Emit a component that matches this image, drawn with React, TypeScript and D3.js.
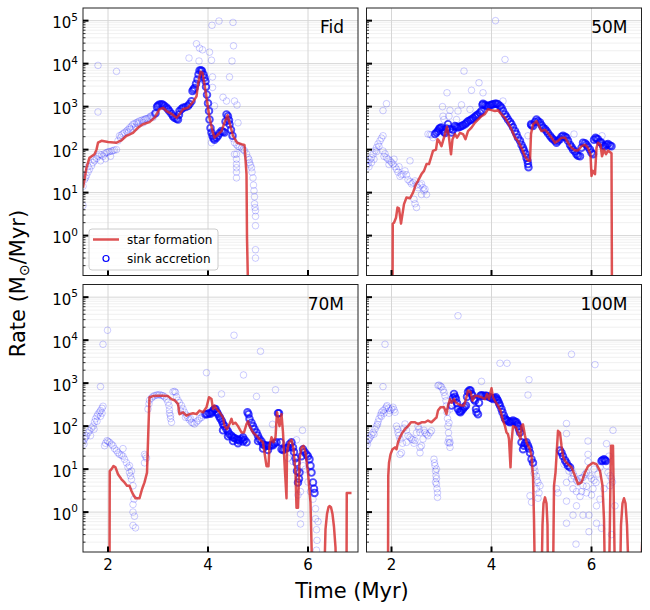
import React, { useEffect, useRef } from 'react';
import * as d3 from 'd3';

type Pt = [number, number];

const runNames = ['Fid', '50M', '70M', '100M'];
const xTicks = [2, 4, 6];
const yMajorTicks = [1, 10, 100, 1000, 10000, 100000];
const xDomain: [number, number] = [1.5, 7];
const yDomain: [number, number] = [0.118, 1.97e5];

// star formation rate (Msun/Myr) vs time (Myr)
const fidStar: Pt[] = [
  [1.5, 13], [1.57, 38], [1.63, 65], [1.73, 78], [1.77, 100], [1.8, 145], [1.87, 160], [2.0, 150],
  [2.17, 145], [2.27, 165], [2.37, 210], [2.5, 245], [2.6, 325], [2.7, 390], [2.83, 435], [2.93, 550],
  [3.03, 870], [3.1, 940], [3.17, 790], [3.27, 680], [3.37, 550], [3.43, 660], [3.5, 870], [3.6, 940],
  [3.7, 1290], [3.77, 1740], [3.8, 3300], [3.85, 6500], [3.89, 6100], [3.93, 3300], [3.98, 1350],
  [4.03, 550], [4.09, 270], [4.13, 190], [4.2, 225], [4.27, 270], [4.33, 425], [4.39, 630], [4.43, 425],
  [4.5, 210], [4.58, 145], [4.67, 133], [4.73, 128], [4.77, 27], [4.78, 0.9], [4.81, 0.02],
];

const m50Star: Pt[] = [
  [2.02, 0.02], [2.025, 1.9], [2.05, 2.0], [2.09, 2.6], [2.12, 4.5], [2.15, 4.3], [2.19, 1.9], [2.22, 3.2],
  [2.25, 5.4], [2.3, 7.7], [2.37, 7.4], [2.43, 10], [2.49, 15.8], [2.53, 18.7], [2.6, 27], [2.65, 32],
  [2.7, 46], [2.75, 46], [2.79, 65], [2.83, 93], [2.89, 100], [2.92, 175], [2.95, 160], [3.0, 120],
  [3.07, 230], [3.11, 340], [3.15, 190], [3.19, 78], [3.22, 175], [3.27, 230], [3.31, 190], [3.37, 245],
  [3.43, 230], [3.48, 175], [3.53, 270], [3.6, 325], [3.67, 425], [3.73, 500], [3.8, 600], [3.87, 680],
  [3.93, 870], [4.0, 830], [4.07, 790], [4.13, 830], [4.2, 660], [4.27, 550], [4.33, 425], [4.4, 295],
  [4.47, 190], [4.53, 160], [4.6, 110], [4.67, 70], [4.73, 56], [4.77, 55], [4.79, 230], [4.83, 390],
  [4.9, 460], [4.95, 355], [5.0, 270], [5.07, 290], [5.13, 245], [5.2, 190], [5.27, 145], [5.33, 160],
  [5.4, 190], [5.47, 190], [5.53, 145], [5.6, 110], [5.67, 95], [5.73, 95], [5.8, 120], [5.87, 130],
  [5.93, 110], [5.98, 78], [6.0, 24.5], [6.03, 32], [6.07, 27], [6.1, 110], [6.13, 145], [6.18, 130],
  [6.21, 70], [6.25, 100], [6.29, 78], [6.33, 95], [6.4, 82], [6.41, 0.02],
];

const m70Star: Pt[] = [
  [2.03, 0.02], [2.035, 9], [2.07, 10], [2.11, 11.8], [2.15, 11], [2.2, 7.6], [2.27, 5.8], [2.33, 4.9],
  [2.38, 4.1], [2.43, 4.1], [2.47, 3.1], [2.5, 2.6], [2.55, 2.1], [2.63, 2.1], [2.68, 3.4], [2.73, 4.9],
  [2.78, 8.3], [2.81, 100], [2.83, 470], [2.9, 500], [3.0, 510], [3.1, 510], [3.2, 500], [3.27, 425],
  [3.33, 400], [3.4, 330], [3.43, 190], [3.5, 210], [3.57, 175], [3.63, 190], [3.7, 200], [3.77, 190],
  [3.83, 230], [3.9, 210], [3.97, 275], [4.02, 470], [4.07, 425], [4.1, 250], [4.13, 300], [4.17, 250],
  [4.23, 210], [4.3, 160], [4.33, 100], [4.38, 85], [4.43, 112], [4.47, 148], [4.5, 112], [4.55, 120],
  [4.6, 100], [4.67, 71], [4.72, 71], [4.77, 112], [4.8, 130], [4.83, 100], [4.9, 71], [4.97, 60],
  [5.03, 50], [5.1, 42], [5.13, 24], [5.17, 11.7], [5.21, 11.7], [5.23, 35], [5.27, 55], [5.31, 42],
  [5.35, 55], [5.38, 210], [5.43, 100], [5.47, 190], [5.5, 71], [5.53, 14], [5.57, 2.1], [5.58, 24],
  [5.62, 42], [5.67, 48], [5.71, 30], [5.75, 8.3], [5.77, 1.26], [5.8, 1.26], [5.83, 17], [5.87, 32],
  [5.91, 35], [5.95, 24], [6.0, 8.3], [6.05, 1.66], [6.09, 0.02],
  [6.33, 0.05], [6.35, 0.4], [6.38, 0.9], [6.41, 1.3], [6.43, 1.38], [6.46, 1.3], [6.49, 0.9],
  [6.52, 0.45], [6.55, 0.15], [6.57, 0.02],
  [6.77, 0.02], [6.775, 2.8], [6.87, 2.8],
];

const m100Star: Pt[] = [
  [1.93, 0.02], [1.935, 6.9], [1.95, 14], [1.98, 22], [2.02, 29], [2.07, 32], [2.1, 29], [2.13, 42],
  [2.17, 55], [2.22, 71], [2.27, 85], [2.33, 100], [2.39, 123], [2.47, 123], [2.53, 112], [2.6, 123],
  [2.67, 123], [2.73, 135], [2.8, 123], [2.87, 148], [2.9, 158], [2.93, 230], [2.98, 275], [3.05, 275],
  [3.1, 190], [3.13, 300], [3.17, 425], [3.2, 350], [3.25, 425], [3.29, 350], [3.33, 330], [3.4, 300],
  [3.45, 300], [3.5, 470], [3.53, 670], [3.58, 630], [3.62, 390], [3.67, 510], [3.73, 500], [3.8, 470],
  [3.87, 425], [3.91, 560], [3.95, 425], [4.0, 760], [4.03, 470], [4.09, 350], [4.13, 300], [4.18, 230],
  [4.22, 148], [4.27, 100], [4.3, 71], [4.33, 65], [4.35, 50], [4.38, 11], [4.4, 42], [4.43, 100],
  [4.49, 92], [4.53, 71], [4.58, 50], [4.6, 100], [4.63, 110], [4.67, 60], [4.7, 42], [4.73, 35],
  [4.77, 29], [4.8, 20], [4.83, 6.9], [4.85, 0.67], [4.87, 0.02],
  [5.0, 0.02], [5.02, 0.5], [5.04, 1.6], [5.07, 2.2], [5.1, 1.6], [5.12, 0.5], [5.13, 0.02],
  [5.23, 0.02], [5.25, 4.1], [5.28, 8.3], [5.33, 78], [5.37, 70], [5.4, 35], [5.43, 20], [5.47, 15.5],
  [5.53, 13], [5.6, 11], [5.67, 6.9], [5.73, 4.5], [5.8, 4.9], [5.87, 8.3], [5.93, 11.7], [6.03, 14],
  [6.1, 13], [6.17, 9.1], [6.22, 4.1], [6.25, 0.67], [6.27, 0.02],
  [6.35, 0.02], [6.39, 35], [6.43, 35], [6.47, 0.02],
  [6.57, 0.02], [6.59, 0.5], [6.62, 1.6], [6.65, 2.1], [6.68, 1.6], [6.71, 0.5], [6.75, 0.02],
  [6.98, 0.02], [7.02, 0.3],
];

// sink accretion rate: the thick, heavily overlapping parts of the track
const fidSinkDense: Pt[] = [
  [2.95, 700], [2.98, 1000], [3.0, 1060], [3.03, 1120], [3.07, 1140], [3.1, 1100], [3.13, 1040],
  [3.17, 950], [3.2, 870], [3.23, 780], [3.27, 680], [3.3, 600], [3.33, 550], [3.37, 520], [3.4, 500],
  [3.42, 650], [3.43, 790], [3.47, 880], [3.5, 940], [3.55, 980], [3.6, 1040], [3.63, 1150],
  [3.67, 1330], [3.69, 2300], [3.71, 2500], [3.73, 2700], [3.76, 3400], [3.79, 4300], [3.81, 5600],
  [3.83, 6900], [3.86, 7000], [3.88, 6700], [3.91, 5600], [3.93, 4700], [3.95, 3900], [3.96, 2900],
  [3.98, 1900], [4.0, 1200], [4.02, 790], [4.03, 500], [4.05, 320], [4.07, 250], [4.09, 210],
  [4.11, 185], [4.13, 170], [4.17, 190], [4.2, 210], [4.23, 240], [4.27, 270], [4.3, 260], [4.33, 250],
  [4.35, 450], [4.37, 660], [4.4, 600], [4.42, 480], [4.43, 390], [4.46, 290], [4.49, 210],
];

// sink accretion rate: faint parts of the track and single outliers
const fidSinkSparse: Pt[] = [
  [1.5, 14], [1.53, 20], [1.55, 22], [1.57, 25], [1.6, 30], [1.63, 35], [1.67, 42], [1.7, 50], [1.73, 55],
  [1.77, 62], [1.8, 70], [1.83, 78], [1.87, 75], [1.9, 70], [1.93, 80], [1.97, 85], [2.0, 88], [2.03, 90],
  [2.07, 92], [2.1, 95], [2.13, 98], [2.17, 100], [2.2, 160], [2.23, 210], [2.27, 220], [2.3, 235],
  [2.33, 250], [2.37, 270], [2.4, 290], [2.43, 320], [2.47, 350], [2.5, 390], [2.53, 400], [2.57, 425],
  [2.6, 440], [2.63, 465], [2.67, 480], [2.7, 490], [2.73, 500], [2.77, 520], [2.8, 540], [2.83, 550],
  [2.87, 600], [2.9, 630], [2.93, 660],
  [1.6, 40], [1.72, 60], [1.85, 55], [1.95, 62], [2.05, 70], [2.25, 190], [2.4, 250], [2.45, 300],
  [2.55, 330], [2.6, 400], [2.7, 420], [2.75, 520], [2.85, 600], [2.9, 560],
  [4.53, 145], [4.57, 130], [4.6, 120], [4.63, 115], [4.67, 110], [4.7, 100], [4.73, 95], [4.77, 80],
  [4.8, 65], [4.82, 58], [4.83, 50], [4.85, 44], [4.87, 38], [4.88, 30], [4.9, 22], [4.91, 15],
  [4.92, 11], [4.93, 8], [4.93, 5.5], [4.94, 4.5], [4.95, 3.8], [4.95, 2.8],
  [4.57, 78], [4.57, 60], [4.57, 46], [4.57, 38], [4.57, 30], [4.57, 22], [4.5, 180], [4.53, 78],
  [1.8, 9100], [2.17, 6600], [1.8, 750], [1.5, 5], [3.62, 13500], [3.77, 29000], [3.83, 23000],
  [3.89, 21000], [3.82, 11500], [4.03, 18500], [4.07, 12000], [4.08, 78000], [4.22, 98000],
  [4.5, 91000], [4.51, 26000], [4.48, 11500], [4.43, 4900], [4.09, 4900], [4.09, 2800], [4.3, 1650],
  [4.37, 1350], [4.13, 1040], [4.53, 1350], [4.58, 1090], [4.6, 420], [4.07, 145], [4.95, 1.7],
  [4.95, 0.47], [4.95, 0.3],
];

const m50SinkDense: Pt[] = [
  [2.87, 230], [2.9, 250], [2.93, 270], [2.95, 300], [2.97, 320], [3.0, 325], [3.03, 290], [3.05, 260],
  [3.07, 245], [3.1, 310], [3.13, 390], [3.17, 300], [3.2, 250], [3.23, 290], [3.27, 355], [3.3, 340],
  [3.33, 325], [3.37, 340], [3.4, 355], [3.43, 370], [3.47, 390], [3.5, 420], [3.53, 460], [3.57, 480],
  [3.6, 500], [3.63, 540], [3.67, 580], [3.7, 620], [3.73, 660], [3.77, 720], [3.8, 790], [3.82, 1100],
  [3.83, 1170], [3.87, 1100], [3.9, 1040], [3.93, 1040], [3.97, 1080], [4.0, 1100], [4.03, 1140],
  [4.07, 1170], [4.1, 1170], [4.13, 1140], [4.17, 1040], [4.2, 940], [4.23, 800], [4.27, 660],
  [4.3, 580], [4.33, 500], [4.37, 440], [4.4, 390], [4.43, 330], [4.47, 270], [4.5, 230], [4.53, 190],
  [4.57, 160], [4.6, 130], [4.63, 110], [4.65, 95], [4.68, 80], [4.7, 65], [4.72, 55], [4.73, 46],
  [4.74, 39], [4.79, 390], [4.8, 370], [4.83, 355], [4.87, 440], [4.9, 500], [4.93, 460], [4.97, 425],
  [5.0, 370], [5.03, 325], [5.07, 300], [5.1, 270], [5.13, 240], [5.17, 210], [5.2, 190], [5.23, 175],
  [5.27, 160], [5.3, 145], [5.33, 160], [5.37, 175], [5.4, 200], [5.43, 210], [5.47, 200], [5.5, 190],
  [5.53, 160], [5.57, 130], [5.6, 115], [5.63, 100], [5.67, 90], [5.7, 78], [5.73, 72], [5.77, 70],
  [5.8, 110], [5.83, 145], [5.87, 140], [5.9, 130], [5.93, 115], [5.97, 100], [6.0, 85], [6.03, 78],
  [6.05, 170], [6.08, 190], [6.1, 180], [6.13, 175], [6.17, 150], [6.2, 145], [6.23, 125], [6.27, 120],
  [6.3, 130], [6.33, 135], [6.37, 125], [6.4, 120],
];

const m50SinkSparse: Pt[] = [
  [1.5, 42], [1.53, 48], [1.57, 59], [1.6, 65], [1.63, 78], [1.67, 95], [1.7, 112], [1.73, 135],
  [1.77, 160], [1.8, 185], [1.83, 210], [1.5, 55], [1.55, 40], [1.6, 50], [1.65, 60], [1.7, 90],
  [1.75, 120],
  [1.83, 93], [1.87, 80], [1.9, 65], [1.93, 60], [1.97, 55], [2.0, 50], [2.03, 46], [2.07, 40],
  [2.1, 35], [2.13, 30], [2.17, 24], [2.2, 26], [2.23, 27], [2.27, 32], [2.3, 26], [2.33, 20],
  [2.37, 18], [2.4, 16], [2.43, 17], [2.47, 18.7], [2.5, 15], [2.53, 13], [2.57, 15], [2.6, 16],
  [2.63, 13], [2.67, 12], [2.7, 9], [1.85, 70], [1.95, 45], [2.05, 60], [2.15, 40], [2.45, 7],
  [2.47, 5.5], [2.5, 4.5], [2.6, 9], [2.65, 11],
  [2.73, 230], [2.77, 225], [2.8, 220], [2.83, 190],
  [4.08, 100000], [4.27, 12500], [3.45, 6700], [3.75, 3600], [3.6, 2400], [3.11, 2100], [3.83, 2100],
  [3.02, 1000], [3.17, 820], [3.33, 790], [3.03, 600], [3.57, 860], [4.23, 1350], [4.73, 210],
  [5.65, 230], [6.21, 210], [1.83, 810], [1.9, 1170], [2.37, 55], [3.15, 600], [3.3, 500], [3.05, 500],
  [3.4, 1100],
];

const m70SinkDense: Pt[] = [
  [3.95, 190], [3.98, 190], [4.02, 200], [4.05, 195], [4.08, 210], [4.1, 230], [4.13, 250], [4.15, 250],
  [4.18, 210], [4.2, 190], [4.23, 165], [4.25, 148], [4.28, 130], [4.3, 112], [4.33, 100], [4.37, 85],
  [4.4, 75], [4.43, 65], [4.47, 60], [4.5, 55], [4.53, 52], [4.57, 50], [4.6, 48], [4.63, 46],
  [4.67, 50], [4.7, 55], [4.73, 48], [4.77, 42], [4.79, 210], [4.81, 190], [4.83, 148], [4.87, 120],
  [4.9, 100], [4.93, 85], [4.97, 71], [5.0, 60], [5.03, 50], [5.07, 44], [5.1, 38], [5.13, 36],
  [5.17, 35], [5.2, 35], [5.23, 35], [5.27, 36], [5.3, 36], [5.33, 40], [5.37, 42], [5.4, 200],
  [5.42, 200], [5.45, 42], [5.47, 29], [5.5, 28], [5.53, 29], [5.57, 31], [5.6, 32], [5.63, 38],
  [5.67, 42], [5.7, 32], [5.72, 25], [5.75, 18], [5.77, 14], [5.78, 9], [5.8, 4.9], [5.82, 6],
  [5.83, 8.3], [5.87, 20], [5.9, 29], [5.93, 25], [5.97, 22], [6.0, 20], [6.03, 17], [6.05, 12],
  [6.07, 8.3], [6.1, 4.9], [6.12, 3.5], [6.13, 2.8],
  [4.3, 80], [4.4, 58], [4.5, 45], [4.6, 40], [4.7, 44], [5.0, 45], [5.1, 30], [5.2, 28],
];

const m70SinkSparse: Pt[] = [
  [1.5, 42], [1.53, 50], [1.57, 60], [1.6, 70], [1.63, 78], [1.67, 90], [1.7, 100], [1.73, 125],
  [1.75, 148], [1.78, 170], [1.8, 190], [1.83, 210], [1.85, 230], [1.88, 260], [1.9, 290], [1.52, 38],
  [1.55, 55], [1.65, 60], [1.72, 85], [1.78, 130], [1.85, 170], [1.88, 200],
  [1.93, 35], [1.95, 40], [1.98, 46], [2.0, 44], [2.03, 42], [2.07, 38], [2.1, 35], [2.13, 30],
  [2.17, 27], [2.2, 24], [2.23, 22], [2.27, 21], [2.3, 20], [2.33, 17], [2.37, 14], [2.4, 11],
  [2.43, 8.3], [2.45, 7], [2.47, 5.8], [2.5, 4.1], [2.52, 2.0], [2.5, 1.5], [2.5, 1.0], [2.53, 0.8],
  [2.5, 0.49], [2.55, 0.43], [2.3, 30], [2.43, 12], [2.47, 9], [2.73, 22], [2.75, 20], [2.77, 18],
  [2.73, 14],
  [2.8, 250], [2.82, 330], [2.83, 400], [2.87, 450], [2.9, 490], [2.93, 510], [2.97, 530], [3.0, 530],
  [3.03, 540], [3.07, 520], [3.1, 510], [3.13, 480], [3.17, 425], [3.2, 360], [3.22, 300], [3.23, 240],
  [3.25, 175], [3.27, 123], [3.23, 200], [3.25, 150], [3.3, 630], [3.33, 640], [3.35, 610], [3.37, 480],
  [3.4, 400], [3.43, 350], [3.47, 300], [3.5, 250], [3.53, 210], [3.57, 180], [3.6, 158], [3.63, 140],
  [3.67, 123], [3.7, 118], [3.73, 112], [3.77, 125], [3.8, 135], [3.83, 150], [3.87, 158], [3.9, 175],
  [3.45, 230], [3.55, 160], [3.65, 150],
  [1.99, 17000], [1.9, 8000], [1.85, 830], [4.52, 13000], [5.05, 5500], [3.97, 1750], [4.71, 1550],
  [5.35, 700], [4.97, 490], [4.27, 560], [5.89, 80], [5.29, 110], [5.77, 48], [5.85, 0.9], [5.85, 0.53],
  [6.17, 0.39], [6.18, 0.22], [6.17, 0.13], [6.15, 0.7], [6.15, 1.2], [6.05, 3], [6.1, 2], [6.2, 0.6],
  [5.9, 12], [5.85, 3], [5.8, 2.5], [5.6, 18], [5.7, 15], [5.95, 10], [6.0, 5],
];

const m100SinkDense: Pt[] = [
  [3.2, 300], [3.23, 450], [3.25, 560], [3.27, 480], [3.29, 425], [3.31, 340], [3.33, 250], [3.36, 220],
  [3.38, 210], [3.4, 230], [3.43, 250], [3.46, 280], [3.49, 300], [3.51, 480], [3.53, 630], [3.56, 680],
  [3.58, 670], [3.6, 560], [3.62, 510], [3.65, 420], [3.67, 390], [3.69, 250], [3.7, 210], [3.73, 190],
  [3.75, 350], [3.78, 510], [3.8, 520], [3.83, 510], [3.87, 510], [3.9, 510], [3.93, 490], [3.97, 470],
  [4.0, 450], [4.03, 425], [4.06, 450], [4.09, 470], [4.11, 420], [4.13, 390], [4.15, 340], [4.17, 300],
  [4.2, 250], [4.22, 210], [4.25, 175], [4.27, 148], [4.29, 140], [4.31, 135], [4.34, 128], [4.37, 123],
  [4.4, 128], [4.43, 135], [4.47, 128], [4.5, 123], [4.52, 110], [4.53, 100], [4.55, 85], [4.57, 71],
  [4.6, 42], [4.63, 29], [4.65, 35], [4.67, 40], [4.7, 42], [4.73, 35], [4.75, 30], [4.77, 24],
  [4.8, 17], [4.83, 14],
  [5.37, 27], [5.4, 24], [5.43, 20], [5.47, 16], [5.5, 14], [5.53, 12], [5.57, 11],
  [6.2, 15.5], [6.22, 16], [6.25, 17], [6.27, 16], [6.29, 15.5],
];

const m100SinkSparse: Pt[] = [
  [1.5, 42], [1.53, 48], [1.57, 55], [1.6, 62], [1.63, 71], [1.67, 85], [1.7, 100], [1.73, 125],
  [1.75, 148], [1.78, 180], [1.8, 210], [1.83, 230], [1.87, 250], [1.9, 280], [1.91, 300], [1.94, 260],
  [1.97, 230], [2.0, 250], [2.03, 275], [2.05, 240], [2.07, 210], [1.52, 38], [1.55, 50], [1.65, 65],
  [1.72, 110], [1.8, 170], [1.85, 200], [1.95, 200],
  [2.1, 100], [2.12, 85], [2.13, 71], [2.15, 60], [2.17, 50], [2.2, 24], [2.22, 40], [2.25, 90],
  [2.27, 112], [2.3, 80], [2.33, 60], [2.37, 55], [2.4, 50], [2.43, 48], [2.47, 46], [2.5, 70],
  [2.53, 100], [2.55, 85], [2.57, 71], [2.6, 35], [2.63, 50], [2.67, 71], [2.7, 65], [2.73, 60],
  [2.77, 70], [2.8, 78], [2.17, 22], [2.3, 42], [2.57, 32], [2.57, 24], [2.45, 40], [2.65, 80],
  [2.85, 17], [2.86, 14], [2.87, 12], [2.88, 9], [2.89, 7], [2.9, 6], [2.9, 4.5], [2.91, 3.5],
  [2.92, 2.8], [2.92, 2.2], [2.88, 5], [2.9, 10],
  [2.93, 880], [2.95, 900], [2.98, 850], [3.0, 810], [3.03, 700], [3.05, 610], [3.07, 500], [3.09, 390],
  [3.1, 300], [3.11, 210], [3.12, 150], [3.13, 100], [3.14, 70], [3.15, 50], [3.16, 40], [3.17, 32],
  [3.13, 42], [3.15, 120], [3.17, 250],
  [4.85, 11], [4.87, 9], [4.9, 6.9], [4.91, 5.5], [4.93, 4.9], [4.95, 2.8], [4.8, 1.7], [4.93, 2.1],
  [4.77, 2.4], [4.97, 4.1], [4.85, 8], [4.9, 3.5],
  [5.33, 2.8], [5.3, 3.5], [5.5, 115], [5.5, 67], [5.93, 45], [6.3, 39], [6.43, 80], [5.5, 1.8],
  [5.7, 1.4], [5.63, 0.85], [5.5, 0.55], [5.83, 0.85], [5.95, 0.85], [5.95, 0.35], [6.1, 0.55],
  [6.2, 0.42], [6.4, 0.3], [5.69, 0.18], [5.77, 2.3], [5.9, 2.8], [6.1, 1.4], [6.17, 2.0], [6.03, 3.5],
  [5.63, 3.5], [5.5, 4.9], [5.83, 4.1], [6.25, 3.5], [6.37, 4.1], [6.47, 1.4],
  [5.6, 10], [5.63, 8], [5.65, 6.9], [5.7, 5.5], [5.73, 5], [5.77, 6], [5.8, 6.2], [5.83, 6.4],
  [5.87, 7.5], [5.9, 8.3], [5.93, 22], [5.93, 15], [5.97, 7], [6.0, 6], [6.05, 5.5], [6.09, 4.9],
  [6.13, 7.7], [6.17, 11], [6.33, 8.3], [6.37, 7], [6.4, 6], [6.42, 5], [5.45, 13], [5.55, 9],
  [5.6, 6], [5.7, 3], [5.8, 3], [5.9, 4], [6.0, 2.5], [6.05, 10], [6.3, 12], [6.35, 20],
  [3.33, 37000], [1.87, 8000], [5.6, 4700], [6.07, 2700], [4.17, 2900], [4.31, 2900], [4.75, 1200],
  [4.73, 530], [3.8, 1100], [1.83, 830], [3.17, 42],
];

const runs = [
  { name: runNames[0], star: fidStar, dense: fidSinkDense, sparse: fidSinkSparse },
  { name: runNames[1], star: m50Star, dense: m50SinkDense, sparse: m50SinkSparse },
  { name: runNames[2], star: m70Star, dense: m70SinkDense, sparse: m70SinkSparse },
  { name: runNames[3], star: m100Star, dense: m100SinkDense, sparse: m100SinkSparse },
];

const FONT = '"DejaVu Sans", sans-serif';
const RED = '#d62728';
const BLUE = '#0000ff';

const SinkStarChart: React.FC = () => {
  const svgRef = useRef<SVGSVGElement>(null);

  useEffect(() => {
    if (!svgRef.current) return;
    const svg = d3.select(svgRef.current);
    svg.selectAll('*').remove();

    const colLeft = [83, 366.5];
    const rowTop = [8, 284.5];
    const pw = 275;
    const ph = 267.5;

    const defs = svg.append('defs');

    const minorY = d3.range(-1, 6)
      .flatMap(k => d3.range(2, 10).map(m => m * Math.pow(10, k)))
      .filter(v => v >= yDomain[0] && v <= yDomain[1]);

    runs.forEach((run, i) => {
      const col = i % 2;
      const row = Math.floor(i / 2);
      const x0 = colLeft[col];
      const y0 = rowTop[row];

      const x = d3.scaleLinear().domain(xDomain).range([x0, x0 + pw]);
      const y = d3.scaleLog().domain(yDomain).range([y0 + ph, y0]);

      defs.append('clipPath').attr('id', `clip-${i}`)
        .append('rect')
        .attr('x', x0).attr('y', y0).attr('width', pw).attr('height', ph);

      const g = svg.append('g');

      // grid
      g.selectAll('.minor-grid')
        .data(minorY)
        .enter()
        .append('line')
        .attr('x1', x0).attr('x2', x0 + pw)
        .attr('y1', d => y(d)).attr('y2', d => y(d))
        .attr('stroke', '#ececec')
        .attr('stroke-width', 0.8);

      g.selectAll('.major-grid')
        .data(yMajorTicks)
        .enter()
        .append('line')
        .attr('x1', x0).attr('x2', x0 + pw)
        .attr('y1', d => y(d)).attr('y2', d => y(d))
        .attr('stroke', '#d6d6d6')
        .attr('stroke-width', 1);

      g.selectAll('.x-grid')
        .data(xTicks)
        .enter()
        .append('line')
        .attr('x1', d => x(d)).attr('x2', d => x(d))
        .attr('y1', y0).attr('y2', y0 + ph)
        .attr('stroke', '#d6d6d6')
        .attr('stroke-width', 1);

      const plot = g.append('g').attr('clip-path', `url(#clip-${i})`);

      // sink accretion
      plot.selectAll('.sparse')
        .data(run.sparse)
        .enter()
        .append('circle')
        .attr('cx', d => x(d[0]))
        .attr('cy', d => y(d[1]))
        .attr('r', 3.3)
        .attr('fill', 'none')
        .attr('stroke', BLUE)
        .attr('stroke-opacity', 0.2)
        .attr('stroke-width', 1);

      plot.selectAll('.dense')
        .data(run.dense)
        .enter()
        .append('circle')
        .attr('cx', d => x(d[0]))
        .attr('cy', d => y(d[1]))
        .attr('r', 3.3)
        .attr('fill', 'none')
        .attr('stroke', BLUE)
        .attr('stroke-opacity', 0.7)
        .attr('stroke-width', 1.9);

      // star formation
      const line = d3.line<Pt>()
        .x(d => x(d[0]))
        .y(d => y(Math.max(d[1], 1e-3)));

      plot.append('path')
        .datum(run.star)
        .attr('d', line)
        .attr('fill', 'none')
        .attr('stroke', RED)
        .attr('stroke-opacity', 0.8)
        .attr('stroke-width', 2.5)
        .attr('stroke-linejoin', 'round');

      // frame
      g.append('rect')
        .attr('x', x0).attr('y', y0).attr('width', pw).attr('height', ph)
        .attr('fill', 'none')
        .attr('stroke', '#222')
        .attr('stroke-width', 1);

      // inward ticks
      g.selectAll('.y-minor-tick')
        .data(minorY)
        .enter()
        .append('line')
        .attr('x1', x0).attr('x2', x0 + 2.5)
        .attr('y1', d => y(d)).attr('y2', d => y(d))
        .attr('stroke', '#000')
        .attr('stroke-width', 0.8);

      g.selectAll('.y-major-tick')
        .data(yMajorTicks)
        .enter()
        .append('line')
        .attr('x1', x0).attr('x2', x0 + 5.5)
        .attr('y1', d => y(d)).attr('y2', d => y(d))
        .attr('stroke', '#000')
        .attr('stroke-width', 2);

      g.selectAll('.x-major-tick')
        .data(xTicks)
        .enter()
        .append('line')
        .attr('x1', d => x(d)).attr('x2', d => x(d))
        .attr('y1', y0 + ph).attr('y2', y0 + ph - 5.5)
        .attr('stroke', '#000')
        .attr('stroke-width', 2);

      if (col === 0) {
        const labels = g.selectAll('.y-label')
          .data(yMajorTicks)
          .enter()
          .append('text')
          .attr('x', x0 - 5)
          .attr('y', d => y(d) + 7.5)
          .attr('text-anchor', 'end')
          .style('font-family', FONT)
          .style('font-size', '15px')
          .style('fill', '#000');
        labels.append('tspan').text('10');
        labels.append('tspan')
          .attr('dy', -7.3)
          .style('font-size', '10.5px')
          .text(d => String(Math.round(Math.log10(d))));
      }

      if (row === 1) {
        g.selectAll('.x-label')
          .data(xTicks)
          .enter()
          .append('text')
          .attr('x', d => x(d))
          .attr('y', y0 + ph + 18)
          .attr('text-anchor', 'middle')
          .style('font-family', FONT)
          .style('font-size', '15px')
          .style('fill', '#000')
          .text(d => String(d));
      }

      g.append('text')
        .attr('x', x0 + pw - 14)
        .attr('y', y0 + 25)
        .attr('text-anchor', 'end')
        .style('font-family', FONT)
        .style('font-size', '17px')
        .style('fill', '#000')
        .text(run.name);

      // legend in the first panel
      if (i === 0) {
        const legend = g.append('g');
        legend.append('rect')
          .attr('x', 89).attr('y', 229).attr('width', 129).attr('height', 41)
          .attr('rx', 3)
          .attr('fill', '#fff')
          .attr('fill-opacity', 0.8)
          .attr('stroke', '#cccccc')
          .attr('stroke-width', 1);
        legend.append('line')
          .attr('x1', 93).attr('x2', 119).attr('y1', 239.5).attr('y2', 239.5)
          .attr('stroke', RED)
          .attr('stroke-opacity', 0.8)
          .attr('stroke-width', 2.5);
        legend.append('text')
          .attr('x', 127).attr('y', 244)
          .style('font-family', FONT)
          .style('font-size', '12px')
          .style('fill', '#000')
          .text('star formation');
        legend.append('circle')
          .attr('cx', 106).attr('cy', 258.5).attr('r', 3)
          .attr('fill', 'none')
          .attr('stroke', BLUE)
          .attr('stroke-width', 1.2);
        legend.append('text')
          .attr('x', 127).attr('y', 263)
          .style('font-family', FONT)
          .style('font-size', '12px')
          .style('fill', '#000')
          .text('sink accretion');
      }
    });

    // axis titles
    const ylab = svg.append('text')
      .attr('transform', 'translate(25, 283.5) rotate(-90)')
      .attr('text-anchor', 'middle')
      .style('font-family', FONT)
      .style('font-size', '21px')
      .style('fill', '#000');
    ylab.append('tspan').text('Rate (M');
    ylab.append('tspan').attr('dy', 4).style('font-size', '14px').text('\u2299');
    ylab.append('tspan').attr('dy', -4).text('/Myr)');

    svg.append('text')
      .attr('x', 352)
      .attr('y', 598)
      .attr('text-anchor', 'middle')
      .style('font-family', FONT)
      .style('font-size', '21px')
      .style('fill', '#000')
      .text('Time (Myr)');
  }, []);

  return (
    <svg
      ref={svgRef}
      width={650}
      height={610}
      style={{ position: 'absolute', left: 0, top: 0, background: '#fff' }}
    />
  );
};

export default function App() {
  return <SinkStarChart />;
}
